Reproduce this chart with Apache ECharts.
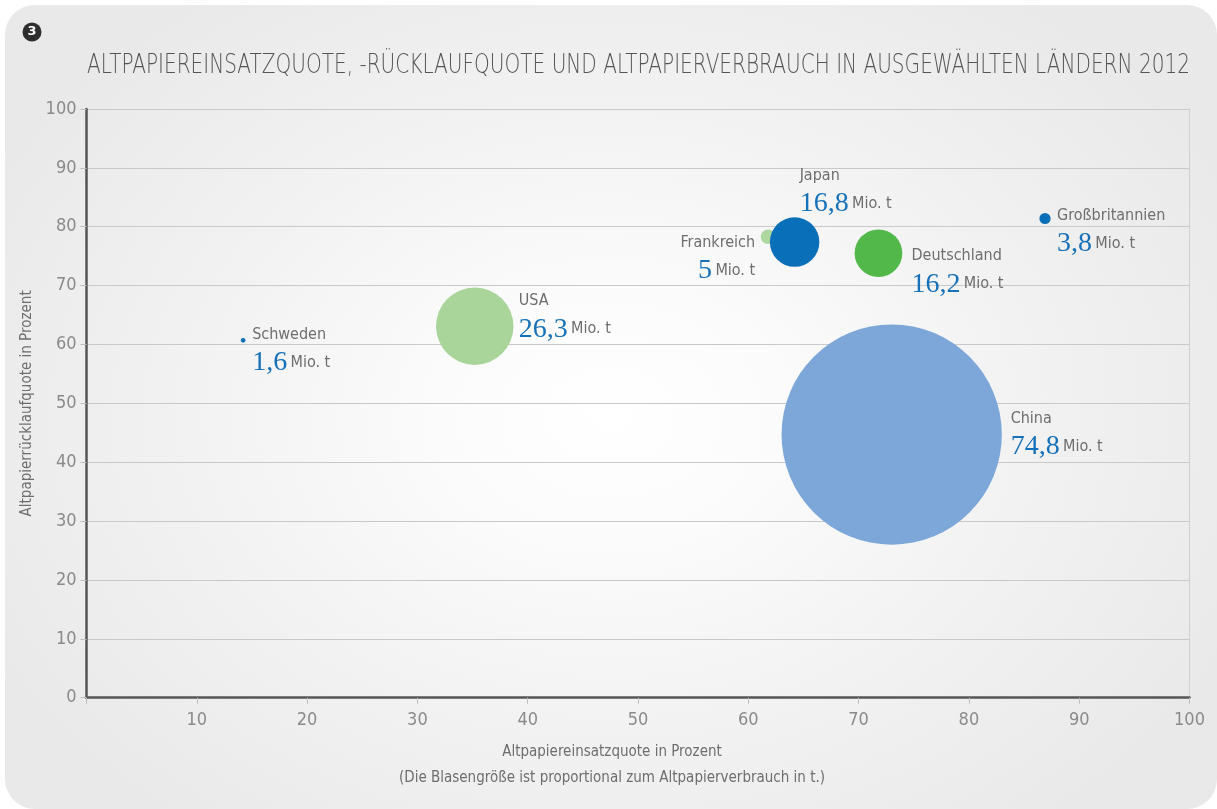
<!DOCTYPE html>
<html><head><meta charset="utf-8">
<script src="https://cdn.jsdelivr.net/npm/echarts@6/dist/echarts.min.js"></script>
<style>
html,body{margin:0;padding:0;background:#fff;width:1217px;height:809px;overflow:hidden;}
#panel{position:absolute;left:5px;top:5px;width:1212px;height:804px;border-radius:30px;
background:radial-gradient(ellipse 700px 520px at 605px 412px,#ffffff 0%,#fbfbfb 25%,#f2f2f2 60%,#e9e9e9 100%);}
#chart{position:absolute;left:0;top:0;width:1217px;height:809px;}
</style></head>
<body><div id="panel"></div><div id="chart"></div>
<script>
// ---- data ----
const countries = ['Schweden','USA','Frankreich','Japan','Deutschland','Großbritannien','China'];
const einsatzquote = [14.2, 35.2, 61.8, 64.2, 71.8, 86.9, 73.0];     // x, %
const ruecklaufquote = [60.7, 63.1, 78.3, 77.4, 75.5, 81.4, 44.7];   // y, %
const verbrauch = [1.6, 26.3, 5, 16.8, 16.2, 3.8, 74.8];             // Mio. t
const verbrauchText = ['1,6','26,3','5','16,8','16,2','3,8','74,8'];
const xTicks = [0,10,20,30,40,50,60,70,80,90,100];
const yTicks = [0,10,20,30,40,50,60,70,80,90,100];
const titleText = 'ALTPAPIEREINSATZQUOTE, -RÜCKLAUFQUOTE UND ALTPAPIERVERBRAUCH IN AUSGEWÄHLTEN LÄNDERN 2012';

// ---- styles / layout ----
const colors = {'Schweden':'#0a6fb9','USA':'#a9d59b','Frankreich':'#acd79e','Japan':'#0a6fb9',
  'Deutschland':'#52b84a','Großbritannien':'#0a6fb9','China':'#7ca7d8'};
const labelLayout = {
  'Schweden':{off:[9,-20],align:'left'},
  'USA':{off:[44,-39],align:'left'},
  'Frankreich':{off:[-13,-8],align:'right'},
  'Japan':{off:[5,-80],align:'left'},
  'Deutschland':{off:[33,-11],align:'left'},
  'Großbritannien':{off:[12,-17],align:'left'},
  'China':{off:[119,-30],align:'left'}
};
const SANS = '"DejaVu Sans Condensed","Liberation Sans Narrow","Roboto",sans-serif';
const SERIF = '"Liberation Serif","DejaVu Serif",serif';

// title width fitting (condensed look)
const TITLE_FONT = '200 27px "DejaVu Sans"';
const cv = document.createElement('canvas').getContext('2d');
cv.font = TITLE_FONT;
const titleScale = 1103 / cv.measureText(titleText).width;

const data = countries.map((c,i)=>({
  name:c,
  value:[einsatzquote[i], ruecklaufquote[i], verbrauch[i]],
  itemStyle:{color:colors[c]},
  label:{
    show:true, position:'inside', align:labelLayout[c].align, verticalAlign:'top',
    offset:labelLayout[c].off,
    formatter:'{n|'+c+'}\n{v|'+verbrauchText[i]+'} {u|Mio. t}',
    rich:{
      n:{fontFamily:SANS,fontSize:16,color:'#6e6e6e',lineHeight:28,align:labelLayout[c].align},
      v:{fontFamily:SERIF,fontSize:28,color:'#1671b8',lineHeight:28},
      u:{fontFamily:SANS,fontSize:16,color:'#6e6e6e',lineHeight:28}
    }
  }
}));

const chart = echarts.init(document.getElementById('chart'),null,{renderer:'canvas'});
chart.setOption({
  backgroundColor:'transparent',
  animation:false,
  grid:{left:86.5,right:27.5,top:109,bottom:111.3},
  xAxis:{type:'value',min:xTicks[0],max:xTicks[xTicks.length-1],interval:10,
    axisLine:{onZero:false,lineStyle:{color:'#555',width:2.5}},
    axisTick:{show:true,length:6,lineStyle:{color:'#bdbdbd'}},
    axisLabel:{margin:14,fontFamily:SANS,fontSize:18,color:'#8a8a8a',
      formatter:v=>v===0?'':String(v)},
    splitLine:{show:false}},
  yAxis:[{type:'value',min:yTicks[0],max:yTicks[yTicks.length-1],interval:10,
    name:'Altpapierrücklaufquote in Prozent',nameLocation:'middle',nameGap:49,
    nameTextStyle:{fontFamily:SANS,fontSize:15,color:'#6e6e6e'},
    axisLine:{show:true,lineStyle:{color:'#555',width:2.5}},
    axisTick:{show:true,length:6,lineStyle:{color:'#bdbdbd'}},
    axisLabel:{margin:10,fontFamily:SANS,fontSize:18,color:'#8a8a8a'},
    splitLine:{show:true,lineStyle:{color:'#c9c9c9',width:1}}},
   {type:'value',position:'right',min:0,max:100,interval:10,
    axisLine:{show:true,lineStyle:{color:'#d0d0d0',width:1}},
    axisTick:{show:false},axisLabel:{show:false},splitLine:{show:false}}],
  graphic:[
    {type:'circle',shape:{cx:32,cy:32,r:9.5},style:{fill:'#2e2e2e'}},
    {type:'text',x:32,y:32,style:{text:'3',fill:'#fff',font:'bold 13px "DejaVu Sans",sans-serif',align:'center',verticalAlign:'middle'}},
    {type:'text',x:87,y:66,scaleX:titleScale,style:{text:titleText,fill:'#555',font:TITLE_FONT,align:'left',verticalAlign:'middle'}},
    {type:'text',x:612,y:752,style:{text:'Altpapiereinsatzquote in Prozent',fill:'#6e6e6e',font:'15px '+SANS,align:'center',verticalAlign:'middle'}},
    {type:'text',x:612,y:778,style:{text:'(Die Blasengröße ist proportional zum Altpapierverbrauch in t.)',fill:'#6e6e6e',font:'15px '+SANS,align:'center',verticalAlign:'middle'}}
  ],
  series:[{type:'scatter',data:data,symbolSize:v=>v[2]*2.945,
    itemStyle:{opacity:1},emphasis:{disabled:true}}]
});
</script></body></html>
